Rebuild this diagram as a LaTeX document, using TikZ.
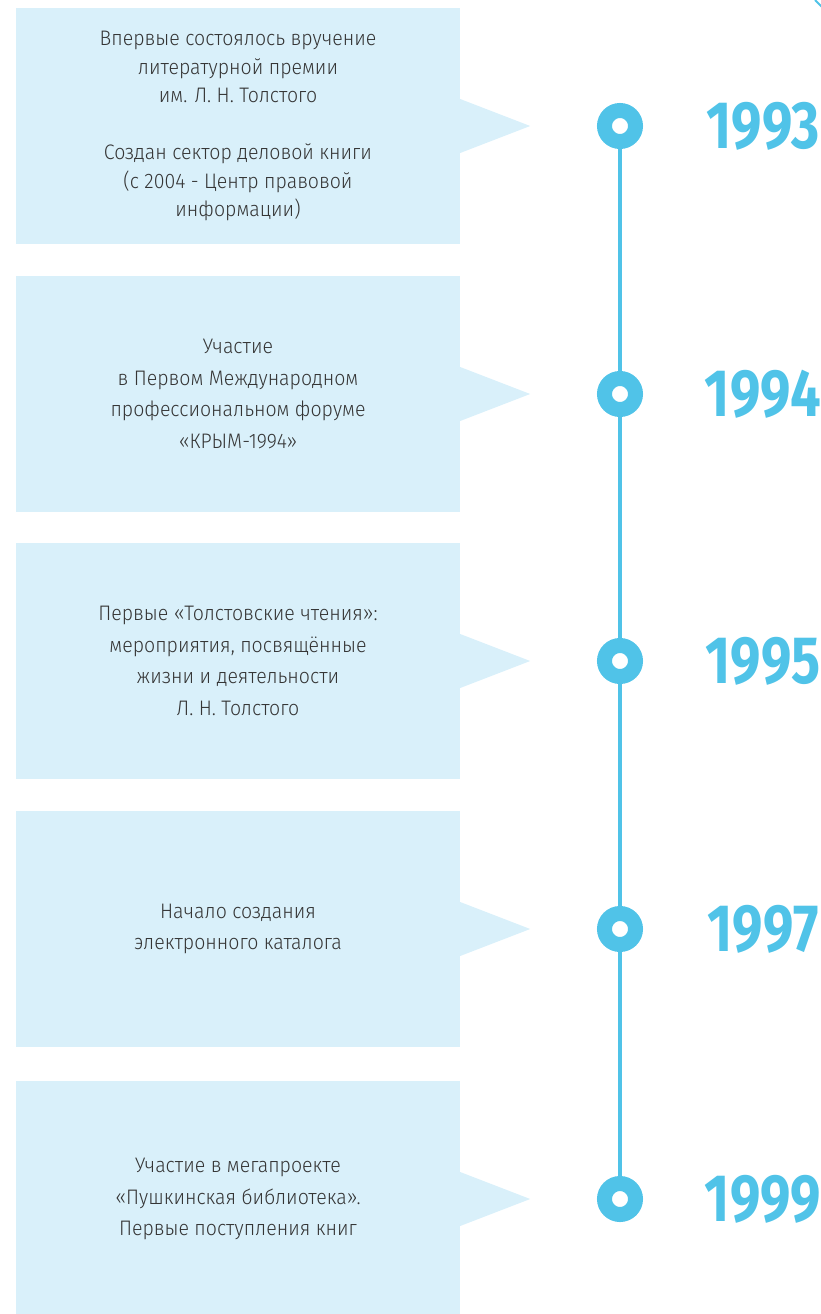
\documentclass[tikz,border=0pt]{standalone}
\usepackage{fontspec}
\IfFontExistsTF{Fira Sans Light}
    {\setmainfont{Fira Sans Light}[FakeStretch=0.93]}
    {\setmainfont{Fira Sans}[FakeStretch=0.93]}
\newfontfamily\yearfont{Fira Sans}[FakeStretch=0.81]
\usetikzlibrary{positioning}
\definecolor{boxBlue}{HTML}{D9F0FA}
\definecolor{lineBlue}{HTML}{50C3E8}
\definecolor{textGray}{HTML}{353535}
\tikzset{event-box/.style={fill=boxBlue, minimum width=444pt, minimum height=236pt, inner sep=0}}
\tikzset{event-text/.style={text=textGray, align=center, font=\fontsize{21}{31.5}\selectfont}}
\tikzset{tight-text/.style={font=\fontsize{21}{28.5}\selectfont}}
\tikzset{time-dot/.style={circle, draw=lineBlue, fill=white, line width=15pt, minimum size=31pt, inner sep=0}}
\tikzset{year-label/.style={text=lineBlue, font=\yearfont\bfseries\fontsize{67}{67}\selectfont, inner sep=0}}
\tikzset{time-line/.style={draw=lineBlue, line width=3.5pt}}
\newcommand{\timeevent}[5]{
    \node[event-box] (box#1) at (238,#2) {};
    \fill[boxBlue] (box#1.east) ++(0,-27) -- ++(70,27) -- ++(-70,27) -- cycle;
    \node[event-text, #5] (text#1) at (box#1) {#3};

    \node[time-dot] (dot#1) at (620,#2) {};
    \node[year-label] (year#1) at (763,#2) {#4};
}

\begin{document}
\begin{tikzpicture}[x=1pt, y=-1pt]
            \useasboundingbox (0,0) rectangle (821,1314);
            \timeevent{1}{126}{Впервые состоялось вручение\\литературной премии\\им. Л. Н. Толстого\\[28.5pt]Создан сектор деловой книги\\(с 2004 - Центр правовой\\информации)}{1993}{tight-text}
            \timeevent{2}{394}{Участие\\в Первом Международном\\профессиональном форуме\\«КРЫМ-1994»}{1994}{}
            \timeevent{3}{661}{Первые «Толстовские чтения»:\\мероприятия, посвящённые\\жизни и деятельности\\Л. Н. Толстого}{1995}{}
            \timeevent{4}{929}{Начало создания\\электронного каталога}{1997}{}
            \timeevent{5}{1199}{Участие в мегапроекте\\«Пушкинская библиотека».\\Первые поступления книг}{1999}{}
            \foreach \a/\b in {1/2, 2/3, 3/4, 4/5}
                \draw[time-line] (dot\a) -- (dot\b);
            % corner mark
            \draw[lineBlue, line width=2pt] (815,0) -- (823,8);
        \end{tikzpicture}
\end{document}
